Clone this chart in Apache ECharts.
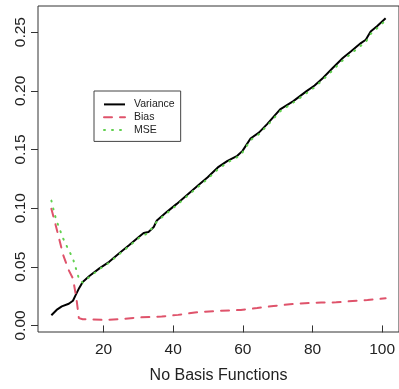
<!DOCTYPE html>
<html>
<head>
<meta charset="utf-8">
<script src="https://cdn.jsdelivr.net/npm/echarts@6/dist/echarts.min.js"></script>
<style>
  html, body { margin: 0; padding: 0; background: #fff; }
  #chart { width: 399px; height: 389px; }
</style>
</head>
<body>
<div id="chart"></div>
<script>
// values
const varianceX = [5, 6.5, 8, 10, 11.2, 12, 13, 14, 16, 18.8, 21.6, 24.4, 27.3, 30.1, 31.5, 32.9, 34.4, 35.3, 38.1, 41,
  44.3, 47.1, 49.9, 52.8, 55.6, 58.4, 59.9, 62.2, 64.6, 66.9, 70.7, 74.5, 78.3, 80.6, 83, 85.8, 88.7, 91, 93.9, 95.3,
  96.7, 98.6, 101];
const varianceY = [0.0087, 0.0132, 0.0162, 0.0185, 0.021, 0.026, 0.032, 0.037, 0.0424, 0.0486, 0.0542, 0.0613, 0.0683,
  0.0754, 0.0788, 0.0797, 0.0839, 0.0895, 0.0966, 0.1036, 0.1121, 0.1192, 0.1263, 0.1347, 0.1403, 0.1446, 0.1488,
  0.1593, 0.1644, 0.1714, 0.1842, 0.1912, 0.1997, 0.2045, 0.211, 0.2195, 0.228, 0.2336, 0.2407, 0.2435, 0.2505,
  0.2553, 0.2619];

const biasX = [5, 6.5, 8.4, 10, 11.2, 12.2, 12.9, 14, 17, 20, 24.5, 30.1, 36.7, 41.4, 46.2, 52.8, 59.4, 64.1, 68.8,
  73.5, 77.8, 82.5, 86.8, 91.5, 95.8, 101];
const biasY = [0.0994, 0.0825, 0.06, 0.047, 0.04, 0.023, 0.0062, 0.0053, 0.005, 0.0047, 0.0053, 0.0068, 0.0076, 0.009,
  0.011, 0.0124, 0.0132, 0.0148, 0.0166, 0.018, 0.0189, 0.0195, 0.0197, 0.0208, 0.0217, 0.0231];

const mseX = [5, 6, 7, 8.4, 10, 11.2, 12.2, 13.1, 14, 16, 18.8, 21.6, 24.4, 27.3, 30.1, 32.9, 35.3, 38.1, 41, 44.3,
  47.1, 49.9, 52.8, 55.6, 58.4, 59.9, 62.2, 64.6, 66.9, 70.7, 74.5, 78.3, 80.6, 83, 85.8, 88.7, 91, 93.9, 95.3, 96.7,
  98.6, 101];
const mseY = [0.1064, 0.094, 0.085, 0.074, 0.064, 0.057, 0.047, 0.038, 0.0365, 0.0415, 0.048, 0.0535, 0.0605, 0.0675,
  0.0745, 0.079, 0.0885, 0.0955, 0.1025, 0.111, 0.118, 0.125, 0.133, 0.139, 0.1435, 0.1475, 0.158, 0.163, 0.17,
  0.1825, 0.19, 0.198, 0.203, 0.2095, 0.2175, 0.226, 0.2315, 0.2385, 0.2415, 0.2485, 0.2535, 0.26];

const xTicks = [20, 40, 60, 80, 100];
const yTicks = [0, 0.05, 0.1, 0.15, 0.2, 0.25];

const FONT = 'Liberation Sans, Arial, sans-serif';
const pairs = (xs, ys) => xs.map((x, i) => [x, ys[i]]);

const chart = echarts.init(document.getElementById('chart'), null, { renderer: 'canvas' });

chart.setOption({
  backgroundColor: '#fff',
  animation: false,
  grid: {
    left: 38, top: 6, width: 366, bottom: 55,
    show: true, borderColor: '#333', borderWidth: 1, backgroundColor: 'transparent'
  },
  legend: {
    orient: 'vertical',
    left: 94, top: 91,
    padding: [7, 6, 5, 9],
    itemGap: 0,
    itemWidth: 21,
    itemHeight: 10,
    borderColor: '#444', borderWidth: 1,
    backgroundColor: '#fff',
    // hide the marker dot that line series put in the middle of the legend line
    itemStyle: { opacity: 0 },
    textStyle: { fontFamily: FONT, fontSize: 10.5, color: '#222', lineHeight: 12.8, padding: [0, 0, 0, 4] },
    data: ['Variance', 'Bias', 'MSE']
  },
  xAxis: {
    type: 'value',
    min: 1.16, max: 104.84,
    name: 'No Basis Functions',
    nameLocation: 'middle',
    nameGap: 36,
    nameTextStyle: { fontFamily: FONT, fontSize: 16, color: '#222' },
    axisLine: { show: false },
    axisTick: { show: true, length: 7, customValues: xTicks, lineStyle: { color: '#333' } },
    axisLabel: { customValues: xTicks, margin: 10, fontFamily: FONT, fontSize: 15.5, color: '#222' },
    splitLine: { show: false }
  },
  yAxis: {
    type: 'value',
    min: -0.0056, max: 0.2723,
    axisLine: { show: false },
    axisTick: { show: true, length: 7, customValues: yTicks, lineStyle: { color: '#333' } },
    axisLabel: {
      customValues: yTicks, rotate: 90, margin: 9,
      fontFamily: FONT, fontSize: 15.5, color: '#222',
      formatter: (v) => v.toFixed(2)
    },
    splitLine: { show: false }
  },
  series: [
    {
      name: 'Variance', type: 'line', symbol: 'none',
      lineStyle: { color: '#000', width: 2 },
      itemStyle: { color: '#000' },
      data: pairs(varianceX, varianceY)
    },
    {
      name: 'Bias', type: 'line', symbol: 'none',
      lineStyle: { color: '#DF536B', width: 2, type: [8, 8], cap: 'round' },
      itemStyle: { color: '#DF536B' },
      data: pairs(biasX, biasY)
    },
    {
      name: 'MSE', type: 'line', symbol: 'none',
      lineStyle: { color: '#61D04F', width: 2, type: [1, 7], cap: 'round' },
      itemStyle: { color: '#61D04F' },
      data: pairs(mseX, mseY)
    }
  ]
});
</script>
</body>
</html>
